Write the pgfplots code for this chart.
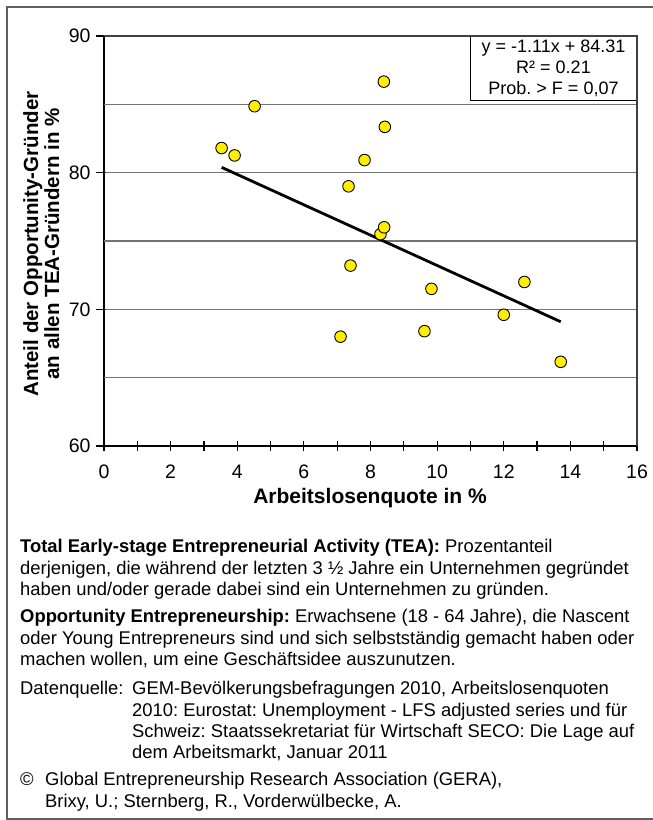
\documentclass[border=0pt]{standalone}
\usepackage{pgfplots}
\pgfplotsset{compat=1.18}
\usepackage{fontspec}
\setmainfont{Liberation Sans}
\frenchspacing
\definecolor{dotyellow}{RGB}{255,238,0}
\definecolor{framegray}{RGB}{95,95,95}
\definecolor{gridgray}{RGB}{115,115,115}
\newcommand{\notes}[1]{\parbox[t]{640bp}{\raggedright\frenchspacing\fontsize{18.4bp}{21.3bp}\selectfont #1}}

\begin{document}
\begin{tikzpicture}[x=1bp,y=1bp]
\useasboundingbox (0,0) rectangle (653,820);
% outer frame (right edge is cut off in the reference)
\draw[framegray, line width=2bp] (653,813) -- (7,813) -- (7,1.2) -- (653,1.2);

\begin{axis}[
    at={(104bp,374bp)}, anchor=south west,
    scale only axis, width=533bp, height=410bp,
    xmin=0, xmax=16, ymin=60, ymax=90,
    xtick={0,2,...,16}, minor xtick={1,3,...,15},
    ytick={60,70,80,90},
    extra y ticks={65,75,85}, extra y tick labels={},
    extra y tick style={grid=major, major tick length=0pt},
    ymajorgrids,
    grid style={gridgray, line width=1.2bp},
    axis x line*=bottom, axis y line*=left,
    axis line style={-, black, line width=2.4bp},
    tick align=center,
    major tick length=10bp, minor tick length=10bp,
    tick style={black, line width=1.2bp},
    ytick style={xshift=-3.5bp},
    /pgf/number format/assume math mode=true,
    ticklabel style={font=\fontsize{19.5bp}{20bp}\selectfont},
    typeset ticklabels with strut,
    xticklabel style={yshift=-10bp},
    yticklabel style={xshift=-5bp, yshift=-3bp},
    clip=false,
    after end axis/.code={
      \draw[black!75, line width=1.4bp] (rel axis cs:0,1) -- (rel axis cs:1,1) -- (rel axis cs:1,0);
    },
]
\addplot[black, line width=2.8bp] coordinates {(3.53,80.39) (13.71,69.09)};
\addplot[only marks, mark=*, mark size=5.8bp,
         mark options={fill=dotyellow, draw=black, line width=0.9bp}]
  coordinates {
    (3.53,81.8) (3.92,81.26) (4.52,84.86) (8.40,86.66) (8.43,83.35)
    (7.82,80.92) (7.34,79.0) (8.30,75.5) (8.41,76.0) (7.40,73.2)
    (9.83,71.5) (12.62,72.0) (12.0,69.6) (9.62,68.4) (7.10,68.0)
    (13.71,66.16)
  };
\node[draw=black, line width=1bp, fill=white, anchor=north east, align=center,
      inner sep=0pt, minimum width=166bp, minimum height=64bp,
      font=\fontsize{18bp}{21bp}\selectfont]
  at (rel axis cs:1,1) {y = -1.11x + 84.31\\R² = 0.21\\Prob. > F = 0,07};
\end{axis}

% axis titles
\node[anchor=base, font=\bfseries\fontsize{21bp}{21bp}\selectfont] at (370,316) {Arbeitslosenquote in \%};
\node[rotate=90, anchor=base, align=center, font=\bfseries\fontsize{20.5bp}{21bp}\selectfont]
  at (59,576) {Anteil der Opportunity-Gründer\\an allen TEA-Gründern in \%};

% notes
\begin{scope}[every node/.style={anchor=base west, inner sep=0pt}]
\node at (20,267) {\notes{\textbf{Total Early-stage Entrepreneurial Activity (TEA):} Prozentanteil\\
  derjenigen, die während der letzten 3 ½ Jahre ein Unternehmen gegründet\\
  haben und/oder gerade dabei sind ein Unternehmen zu gründen.}};
\node at (20,197) {\notes{\textbf{Opportunity Entrepreneurship:} Erwachsene (18 - 64 Jahre), die Nascent\\
  oder Young Entrepreneurs sind und sich selbstständig gemacht haben oder\\
  machen wollen, um eine Geschäftsidee auszunutzen.}};
\node at (20,125) {\notes{Datenquelle:}};
\node at (132,125) {\notes{GEM-Bevölkerungsbefragungen 2010, Arbeitslosenquoten\\
  2010: Eurostat: Unemployment - LFS adjusted series und für\\
  Schweiz: Staatssekretariat für Wirtschaft SECO: Die Lage auf\\
  dem Arbeitsmarkt, Januar 2011}};
\node at (20,34) {\notes{©}};
\node at (45,34) {\notes{Global Entrepreneurship Research Association (GERA),\\
  Brixy, U.; Sternberg, R., Vorderwülbecke, A.}};
\end{scope}
\end{tikzpicture}
\end{document}
